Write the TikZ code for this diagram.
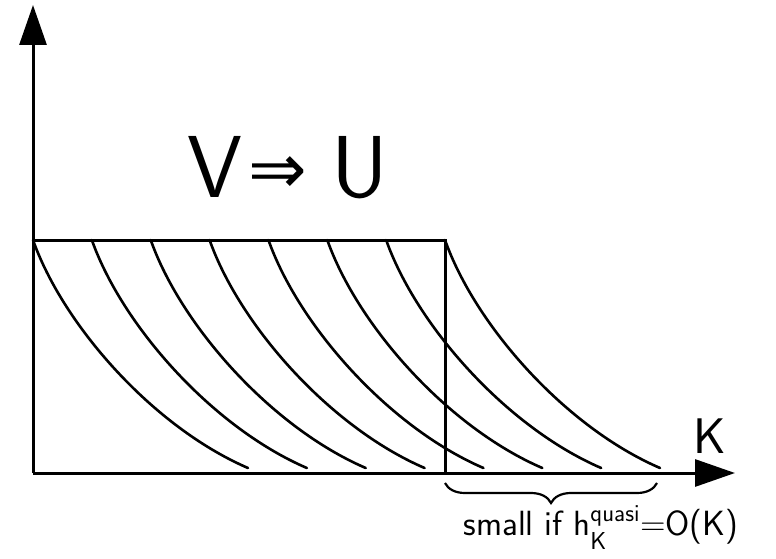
\documentclass[tikz,border=0pt]{standalone}
\usepackage{amsmath}
\usepackage{amssymb}
\usepackage{fontspec}
\newfontfamily\arrowfont{DejaVu Sans}
\usetikzlibrary{arrows.meta, calc, positioning, decorations.pathreplacing}

\begin{document}
\begin{tikzpicture}[
        x=1pt, y=1pt,
        font=\sffamily,
        axis/.style = {draw, line width=3pt, -{Triangle[length=40pt, width=27pt]}},
        edge/.style = {draw, line width=3pt},
        decay/.style = {draw, line width=2.6pt, line cap=round},
        underbrace/.style = {draw, line width=2.2pt, decorate, decoration={brace, mirror, amplitude=20pt}},
        biglabel/.style = {inner sep=0pt, font=\sffamily\fontsize{88}{88}\selectfont},
        axislabel/.style = {inner sep=0pt, font=\sffamily\fontsize{50}{50}\selectfont},
        notelabel/.style = {inner sep=0pt, anchor=base, font=\sffamily\fontsize{35}{35}\selectfont}
    ]
    \useasboundingbox (-33,-85) rectangle (743,473);

    % Corners
    \coordinate (origin) at (0,0);
    \coordinate (ytip) at (0,468);
    \coordinate (xtip) at (702,0);
    \coordinate (topleft) at (0,233);
    \coordinate (topright) at (412,233);
    \coordinate (botright) at (412,0);
    \coordinate (braceL) at (412,-10);
    \coordinate (braceR) at (624,-10);

    % Axes
    \path [axis] (origin) -- (ytip);
    \path [axis] (origin) -- (xtip);

    % Box
    \path [edge] (topleft) -- (topright) -- (botright);

    % Decay curves
    \foreach \s in {0,...,7} {
        \path [decay] ($(topleft)+(58.86*\s,0)$) .. controls +(30,-85) and +(-95,41) .. +(215,-228);
    }

    % Labels
    \node [biglabel] (title) at (255,305) {V\hspace{6pt}\raisebox{4pt}{\arrowfont\fontsize{70}{70}\selectfont ⇒}\hspace{24pt}U};
    \node [axislabel] (klabel) at (677,37) {K};

    % Tail
    \path [underbrace] (braceL) -- (braceR);
    \node [notelabel] (note) at (568,-62) {small if h$_{\mathsf{K}}^{\mathsf{quasi}}$=O(K)};

\end{tikzpicture}
\end{document}
